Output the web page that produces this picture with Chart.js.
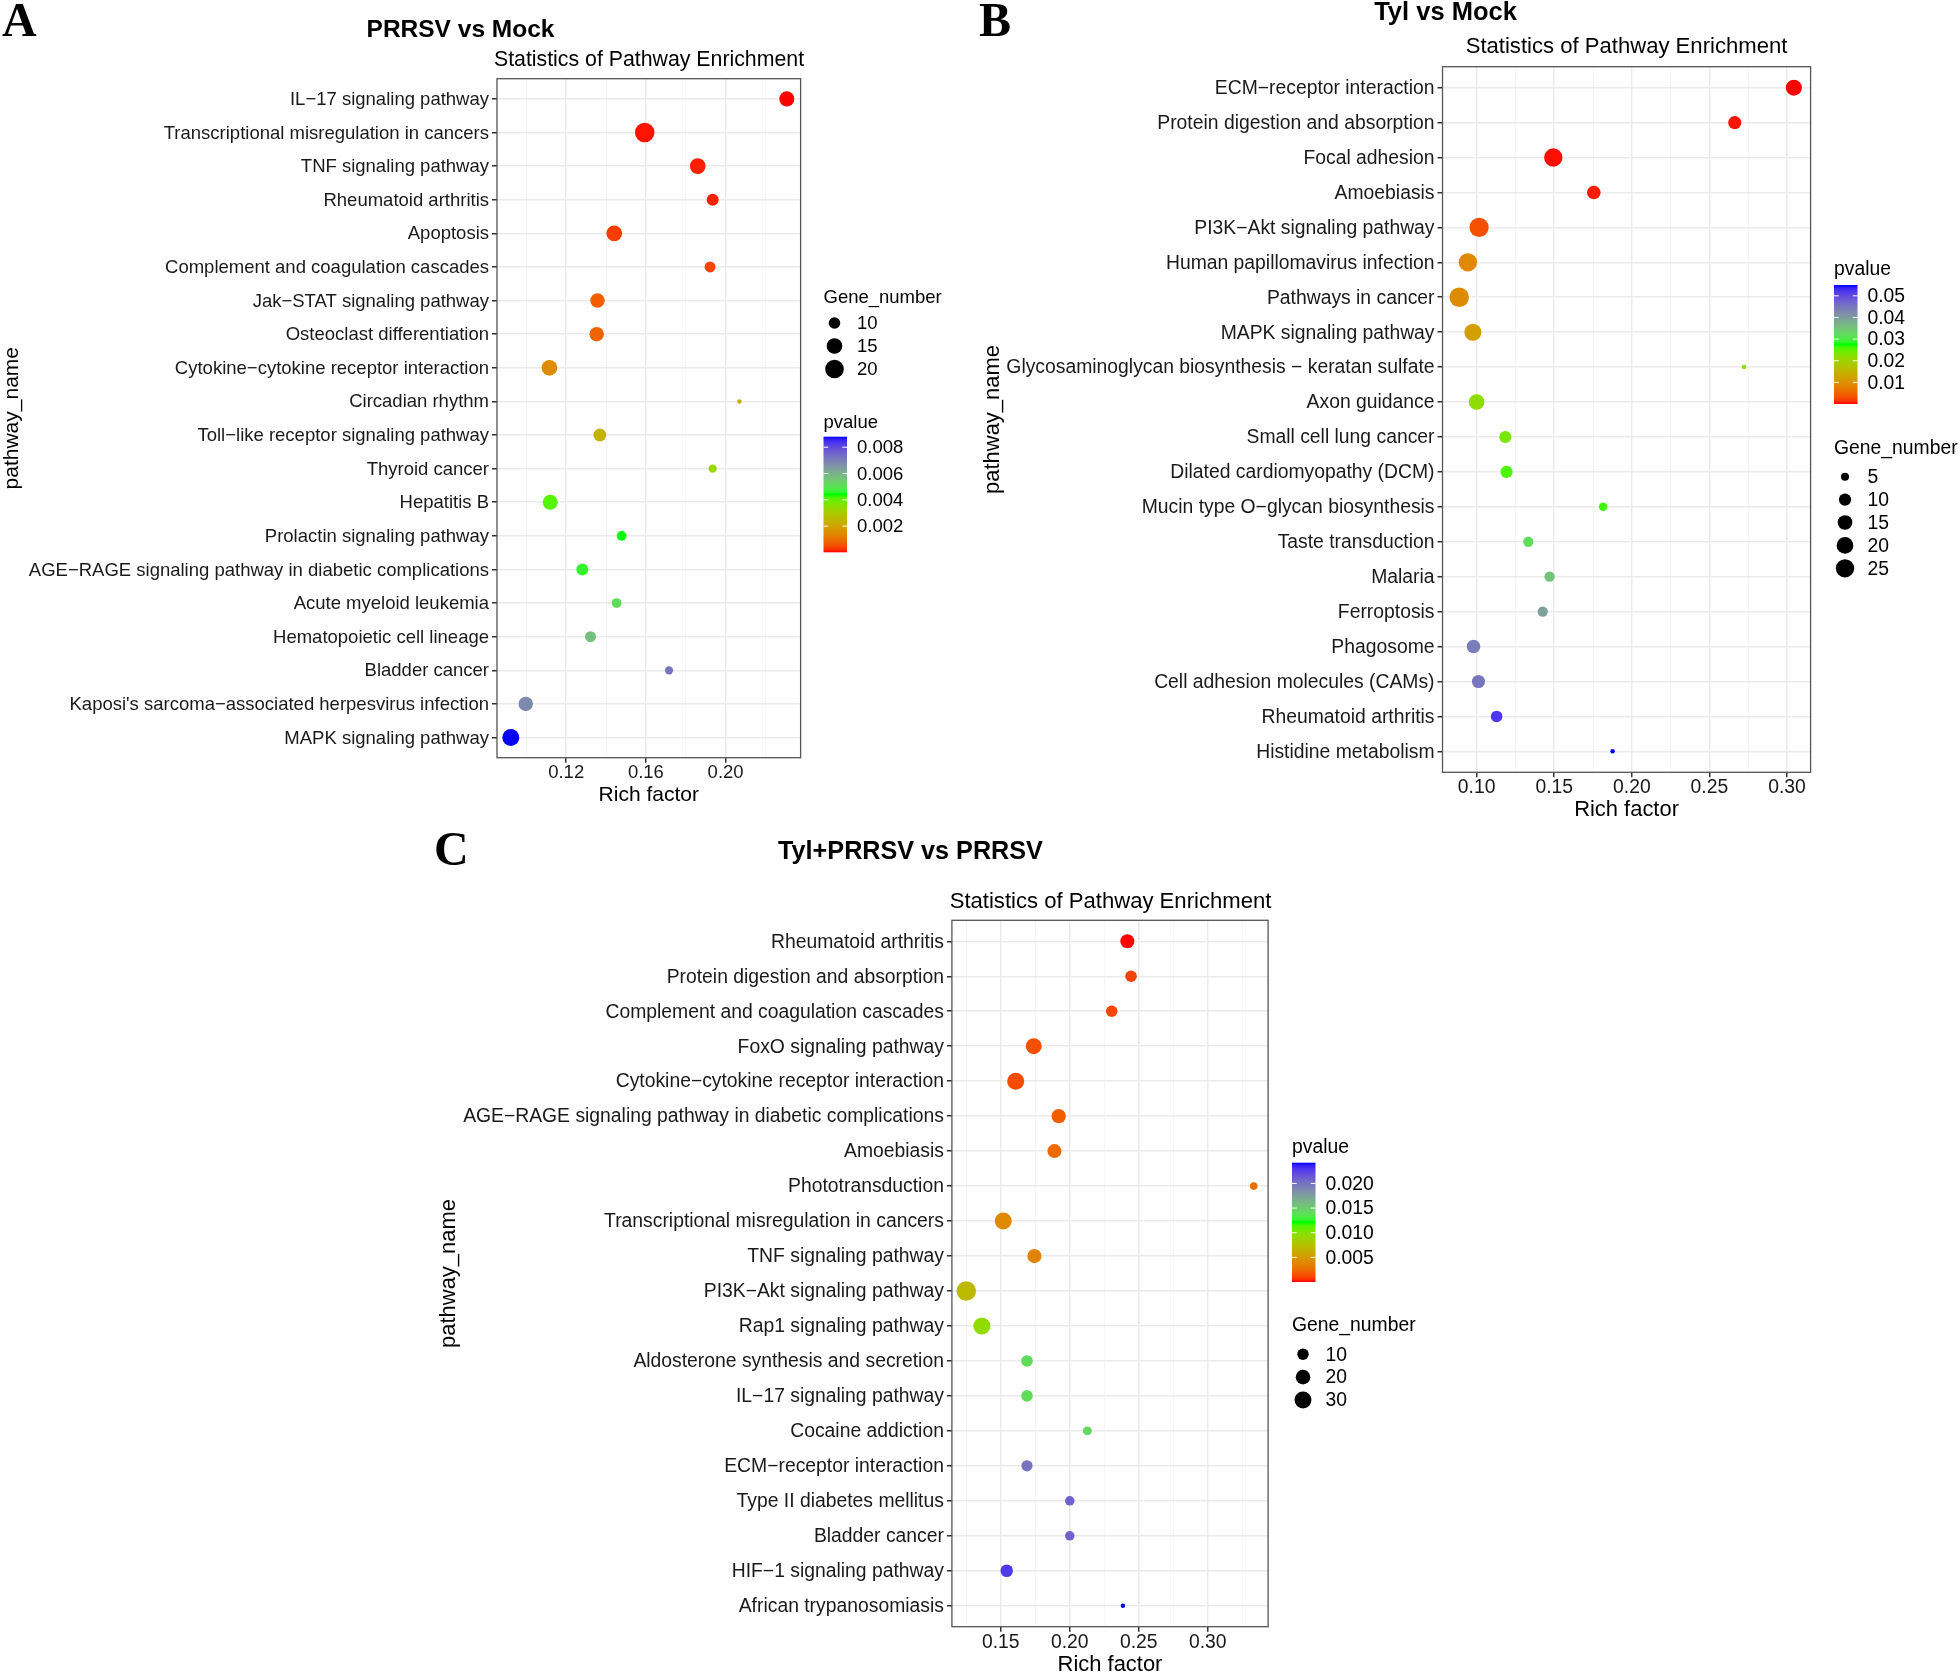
<!DOCTYPE html>
<html>
<head>
<meta charset="utf-8">
<script src="https://cdn.jsdelivr.net/npm/chart.js@4.4.1/dist/chart.umd.min.js"></script>
<style>
  html, body { margin: 0; padding: 0; background: #fff; overflow: hidden; }
  #wrap { position: relative; width: 1960px; height: 1676px; overflow: hidden; }
  #wrap canvas { position: absolute; left: 0; top: 0; }
</style>
</head>
<body>
<div id="wrap">
  <canvas id="chartA" width="1960" height="1720"></canvas>
  <canvas id="chartB" width="1960" height="1720"></canvas>
  <canvas id="chartC" width="1960" height="1720"></canvas>
</div>
<script>
// ---- panel A : PRRSV vs Mock
const namesA = [
  'IL−17 signaling pathway',
  'Transcriptional misregulation in cancers',
  'TNF signaling pathway',
  'Rheumatoid arthritis',
  'Apoptosis',
  'Complement and coagulation cascades',
  'Jak−STAT signaling pathway',
  'Osteoclast differentiation',
  'Cytokine−cytokine receptor interaction',
  'Circadian rhythm',
  'Toll−like receptor signaling pathway',
  'Thyroid cancer',
  'Hepatitis B',
  'Prolactin signaling pathway',
  'AGE−RAGE signaling pathway in diabetic complications',
  'Acute myeloid leukemia',
  'Hematopoietic cell lineage',
  'Bladder cancer',
  "Kaposi's sarcoma−associated herpesvirus infection",
  'MAPK signaling pathway'
];
const richA = [0.2307, 0.1594, 0.1860, 0.1935, 0.1441, 0.1922, 0.1357, 0.1353, 0.1116, 0.2069,
               0.1369, 0.1935, 0.1120, 0.1478, 0.1281, 0.1453, 0.1322, 0.1716, 0.0997, 0.0922];
const pvalA = [0.00001, 0.00005, 0.0001, 0.0001, 0.0003, 0.0004, 0.0007, 0.0008, 0.0015, 0.0023,
               0.0024, 0.0033, 0.0041, 0.0044, 0.0046, 0.0051, 0.0057, 0.0072, 0.0068, 0.0088];
const genesA = [15, 23, 16, 11, 16, 10, 14, 14, 16, 7, 12, 8, 15, 9, 11, 9, 10, 8, 14, 18];
const xMajorA = [0.12, 0.16, 0.20];
const xMinorA = [0.10, 0.14, 0.18, 0.22];
const geneBreaksA = [10, 15, 20];
const pBreaksA = [0.002, 0.004, 0.006, 0.008];
const pLabelsA = ['0.002', '0.004', '0.006', '0.008'];

// ---- panel B : Tyl vs Mock
const namesB = [
  'ECM−receptor interaction',
  'Protein digestion and absorption',
  'Focal adhesion',
  'Amoebiasis',
  'PI3K−Akt signaling pathway',
  'Human papillomavirus infection',
  'Pathways in cancer',
  'MAPK signaling pathway',
  'Glycosaminoglycan biosynthesis − keratan sulfate',
  'Axon guidance',
  'Small cell lung cancer',
  'Dilated cardiomyopathy (DCM)',
  'Mucin type O−glycan biosynthesis',
  'Taste transduction',
  'Malaria',
  'Ferroptosis',
  'Phagosome',
  'Cell adhesion molecules (CAMs)',
  'Rheumatoid arthritis',
  'Histidine metabolism'
];
const richB = [0.3044, 0.2663, 0.1494, 0.1755, 0.1016, 0.0944, 0.0888, 0.0976, 0.2723, 0.1000,
               0.1185, 0.1193, 0.1815, 0.1333, 0.1470, 0.1426, 0.0980, 0.1012, 0.1129, 0.1876];
const pvalB = [0.00001, 0.0003, 0.0002, 0.0005, 0.0032, 0.009, 0.0095, 0.012, 0.0215, 0.0215,
               0.0235, 0.026, 0.0265, 0.032, 0.035, 0.0395, 0.044, 0.045, 0.052, 0.055];
const genesB = [20, 13, 27, 14, 30, 27, 31, 23, 4, 19, 11, 11, 6, 8, 8, 8, 14, 13, 10, 4];
const xMajorB = [0.10, 0.15, 0.20, 0.25, 0.30];
const xMinorB = [0.125, 0.175, 0.225, 0.275];
const geneBreaksB = [5, 10, 15, 20, 25];
const pBreaksB = [0.01, 0.02, 0.03, 0.04, 0.05];
const pLabelsB = ['0.01', '0.02', '0.03', '0.04', '0.05'];

// ---- panel C : Tyl+PRRSV vs PRRSV
const namesC = [
  'Rheumatoid arthritis',
  'Protein digestion and absorption',
  'Complement and coagulation cascades',
  'FoxO signaling pathway',
  'Cytokine−cytokine receptor interaction',
  'AGE−RAGE signaling pathway in diabetic complications',
  'Amoebiasis',
  'Phototransduction',
  'Transcriptional misregulation in cancers',
  'TNF signaling pathway',
  'PI3K−Akt signaling pathway',
  'Rap1 signaling pathway',
  'Aldosterone synthesis and secretion',
  'IL−17 signaling pathway',
  'Cocaine addiction',
  'ECM−receptor interaction',
  'Type II diabetes mellitus',
  'Bladder cancer',
  'HIF−1 signaling pathway',
  'African trypanosomiasis'
];
const richC = [0.2417, 0.2444, 0.2304, 0.1739, 0.1608, 0.1920, 0.1889, 0.3333, 0.1518, 0.1744,
               0.1250, 0.1363, 0.1690, 0.1690, 0.2127, 0.1690, 0.2000, 0.2000, 0.1543, 0.2385];
const pvalC = [0.00001, 0.0010, 0.0011, 0.0014, 0.0013, 0.0019, 0.0024, 0.0026, 0.0040, 0.0036,
               0.007, 0.0094, 0.014, 0.014, 0.0143, 0.020, 0.0208, 0.0208, 0.0228, 0.0242];
const genesC = [20, 12, 12, 28, 33, 21, 20, 4, 33, 21, 47, 34, 12, 12, 6, 11, 7, 7, 15, 2];
const xMajorC = [0.15, 0.20, 0.25, 0.30];
const xMinorC = [0.125, 0.175, 0.225, 0.275, 0.325];
const geneBreaksC = [10, 20, 30];
const pBreaksC = [0.005, 0.010, 0.015, 0.020];
const pLabelsC = ['0.005', '0.010', '0.015', '0.020'];

// ---- look
const FAMILY = '"Liberation Sans", Arial, Helvetica, sans-serif';
const W = 1960, H = 1720;
const rampColors = [[255, 0, 0], [0, 255, 0], [0, 0, 255]]; // red - green - blue, mixed in Lab like ggplot
Chart.defaults.font.family = FAMILY;
Chart.defaults.color = '#1a1a1a';

// colour mixing in CIE Lab
function toLin(c) { c /= 255; return c <= 0.04045 ? c / 12.92 : Math.pow((c + 0.055) / 1.055, 2.4); }
function toSrgb(v) {
  v = v <= 0.0031308 ? 12.92 * v : 1.055 * Math.pow(Math.max(v, 0), 1 / 2.4) - 0.055;
  return Math.round(Math.max(0, Math.min(1, v)) * 255);
}
function rgb2lab(rgb) {
  const [r, g, b] = rgb.map(toLin);
  const x = (0.4124564 * r + 0.3575761 * g + 0.1804375 * b) / 0.95047;
  const y = 0.2126729 * r + 0.7151522 * g + 0.0721750 * b;
  const z = (0.0193339 * r + 0.1191920 * g + 0.9503041 * b) / 1.08883;
  const f = t => t > 0.008856 ? Math.cbrt(t) : 7.787 * t + 16 / 116;
  const fx = f(x), fy = f(y), fz = f(z);
  return [116 * fy - 16, 500 * (fx - fy), 200 * (fy - fz)];
}
function lab2rgb(lab) {
  const fy = (lab[0] + 16) / 116, fx = fy + lab[1] / 500, fz = fy - lab[2] / 200;
  const fi = t => { const t3 = t * t * t; return t3 > 0.008856 ? t3 : (t - 16 / 116) / 7.787; };
  const x = fi(fx) * 0.95047, y = fi(fy), z = fi(fz) * 1.08883;
  const r = 3.2404542 * x - 1.5371385 * y - 0.4985314 * z;
  const g = -0.9692660 * x + 1.8760108 * y + 0.0415560 * z;
  const b = 0.0556434 * x - 0.2040259 * y + 1.0572252 * z;
  return [toSrgb(r), toSrgb(g), toSrgb(b)];
}
const rampLab = rampColors.map(rgb2lab);
function colorAt(t) {
  t = Math.max(0, Math.min(1, t));
  const seg = rampLab.length - 1;
  const k = Math.min(seg - 1, Math.floor(t * seg));
  const u = t * seg - k;
  const a = rampLab[k], b = rampLab[k + 1];
  const c = lab2rgb([a[0] + (b[0] - a[0]) * u, a[1] + (b[1] - a[1]) * u, a[2] + (b[2] - a[2]) * u]);
  return 'rgb(' + c.join(',') + ')';
}

function makePanel(id, d, L) {
  const lo = Math.min(...d.rich), hi = Math.max(...d.rich);
  const pad = (hi - lo) * 0.05;
  const gMin = Math.min(...d.genes), gMax = Math.max(...d.genes);
  const pMin = Math.min(...d.pval), pMax = Math.max(...d.pval);
  const diam = g => 4.5 + 15 * Math.sqrt((g - gMin) / (gMax - gMin));
  const colOf = p => colorAt((p - pMin) / (pMax - pMin));
  const isMajor = v => d.xMajor.some(m => Math.abs(m - v) < 1e-9);
  const n = d.names.length;
  const fs = L.fs;

  const deco = {
    id: 'deco' + id,
    afterDraw(chart) {
      const { ctx, chartArea: a } = chart;
      ctx.save();
      ctx.strokeStyle = '#555';
      ctx.lineWidth = 1.3;
      ctx.strokeRect(a.left, a.top, a.right - a.left, a.bottom - a.top);

      ctx.fillStyle = '#000';
      ctx.textBaseline = 'alphabetic';
      ctx.textAlign = 'left';
      ctx.font = 'bold 48px "Liberation Serif", "Times New Roman", serif';
      ctx.fillText(L.letter, L.letterAt[0], L.letterAt[1]);
      ctx.textAlign = 'center';
      ctx.font = 'bold ' + L.titleSize + 'px ' + FAMILY;
      ctx.fillText(L.title, L.titleAt[0], L.titleAt[1]);
      ctx.font = L.subSize + 'px ' + FAMILY;
      ctx.fillText('Statistics of Pathway Enrichment', L.subAt[0], L.subAt[1]);

      // pvalue colour bar
      const lx = L.legendX, bw = 23.5;
      ctx.textAlign = 'left';
      ctx.font = (18.5 * fs) + 'px ' + FAMILY;
      ctx.fillText('pvalue', lx, L.pTitleY);
      const grad = ctx.createLinearGradient(0, L.barBottom, 0, L.barTop);
      for (let i = 0; i <= 40; i++) grad.addColorStop(i / 40, colorAt(i / 40));
      ctx.fillStyle = grad;
      ctx.fillRect(lx, L.barTop, bw, L.barBottom - L.barTop);
      ctx.strokeStyle = '#fff';
      ctx.lineWidth = 1;
      ctx.fillStyle = '#000';
      ctx.textBaseline = 'middle';
      d.pBreaks.forEach((p, i) => {
        const y = L.barBottom - (p - pMin) / (pMax - pMin) * (L.barBottom - L.barTop);
        ctx.beginPath();
        ctx.moveTo(lx, y); ctx.lineTo(lx + 4.7, y);
        ctx.moveTo(lx + bw - 4.7, y); ctx.lineTo(lx + bw, y);
        ctx.stroke();
        ctx.fillText(d.pLabels[i], lx + 33.5, y + 1);
      });

      // Gene_number size legend
      ctx.textBaseline = 'alphabetic';
      ctx.fillText('Gene_number', lx, L.gTitleY);
      ctx.textBaseline = 'middle';
      d.geneBreaks.forEach((g, i) => {
        const y = L.gY0 + i * L.gStep;
        ctx.beginPath();
        ctx.arc(lx + 11, y, diam(g) / 2 + 0.3, 0, Math.PI * 2);
        ctx.fill();
        ctx.fillText(String(g), lx + 33.5, y + 1);
      });
      ctx.restore();
    }
  };

  return new Chart(document.getElementById(id), {
    type: 'bubble',
    data: {
      datasets: [{
        data: d.rich.map((x, i) => ({ x: x, y: i, r: diam(d.genes[i]) / 2 })),
        backgroundColor: d.pval.map(colOf),
        borderWidth: 0,
        hoverBorderWidth: 0
      }]
    },
    options: {
      responsive: false,
      animation: false,
      events: [],
      layout: {
        padding: {
          left: L.axisLeft,
          top: L.area.top,
          right: W - L.area.right,
          bottom: H - L.area.bottom - L.xAxisH
        }
      },
      plugins: { legend: { display: false }, tooltip: { enabled: false } },
      scales: {
        x: {
          type: 'linear',
          min: lo - pad,
          max: hi + pad,
          afterBuildTicks: ax => {
            ax.ticks = d.xMinor.concat(d.xMajor).sort((p, q) => p - q).map(v => ({ value: v }));
          },
          afterFit: ax => { ax.height = L.xAxisH; },
          ticks: {
            callback: v => isMajor(v) ? v.toFixed(2) : '',
            font: { size: 18.5 * fs, lineHeight: 1 },
            color: '#1a1a1a',
            padding: 1,
            maxRotation: 0,
            autoSkip: false
          },
          grid: {
            color: c => (c.tick && isMajor(c.tick.value)) ? '#ebebeb' : '#f4f4f4',
            lineWidth: c => (c.tick && isMajor(c.tick.value)) ? 1.5 : 0.9,
            tickLength: 5,
            tickColor: c => (c.tick && isMajor(c.tick.value)) ? '#333' : 'rgba(0,0,0,0)'
          },
          border: { display: false },
          title: { display: true, text: 'Rich factor', font: { size: 21 * fs }, color: '#000', padding: 0 }
        },
        y: {
          type: 'linear',
          reverse: true,
          min: -0.6,
          max: n - 0.4,
          afterBuildTicks: ax => { ax.ticks = d.names.map((_, i) => ({ value: i })); },
          afterFit: ax => { ax.width = L.area.left - L.axisLeft; },
          ticks: {
            callback: v => d.names[v],
            font: { size: 18.5 * fs },
            color: '#1a1a1a',
            padding: 3,
            labelOffset: 1,
            autoSkip: false
          },
          grid: { color: '#ebebeb', lineWidth: 1.5, tickLength: 5, tickColor: '#333' },
          border: { display: false },
          title: { display: true, text: 'pathway_name', font: { size: 21 * fs }, color: '#000', padding: 0 }
        }
      }
    },
    plugins: [deco]
  });
}

makePanel('chartA',
  { names: namesA, rich: richA, pval: pvalA, genes: genesA, xMajor: xMajorA, xMinor: xMinorA,
    geneBreaks: geneBreaksA, pBreaks: pBreaksA, pLabels: pLabelsA },
  { letter: 'A', title: 'PRRSV vs Mock', fs: 1, titleSize: 24.5, subSize: 21.3,
    area: { left: 497, right: 800.6, top: 78.7, bottom: 757.7 }, axisLeft: 0, xAxisH: 49.9,
    letterAt: [2, 36], titleAt: [460.5, 36.5], subAt: [649, 66],
    legendX: 823.5, pTitleY: 428, barTop: 436.7, barBottom: 552.3,
    gTitleY: 303, gY0: 323, gStep: 23 });

makePanel('chartB',
  { names: namesB, rich: richB, pval: pvalB, genes: genesB, xMajor: xMajorB, xMinor: xMinorB,
    geneBreaks: geneBreaksB, pBreaks: pBreaksB, pLabels: pLabelsB },
  { letter: 'B', title: 'Tyl vs Mock', fs: 1.045, titleSize: 25.5, subSize: 22.1,
    area: { left: 1442.5, right: 1810.6, top: 66.7, bottom: 772.3 }, axisLeft: 980, xAxisH: 50.8,
    letterAt: [979, 36], titleAt: [1445.5, 19.5], subAt: [1626.5, 53],
    legendX: 1834, pTitleY: 274.5, barTop: 285, barBottom: 404,
    gTitleY: 454, gY0: 476.7, gStep: 22.9 });

makePanel('chartC',
  { names: namesC, rich: richC, pval: pvalC, genes: genesC, xMajor: xMajorC, xMinor: xMinorC,
    geneBreaks: geneBreaksC, pBreaks: pBreaksC, pLabels: pLabelsC },
  { letter: 'C', title: 'Tyl+PRRSV vs PRRSV', fs: 1.045, titleSize: 25.2, subSize: 22.1,
    area: { left: 951.9, right: 1268.1, top: 920.3, bottom: 1626.7 }, axisLeft: 436, xAxisH: 51.4,
    letterAt: [434, 865], titleAt: [910.5, 859], subAt: [1110.5, 907.5],
    legendX: 1292, pTitleY: 1153, barTop: 1162.7, barBottom: 1282,
    gTitleY: 1330.5, gY0: 1354.3, gStep: 22.85 });
</script>
</body>
</html>
